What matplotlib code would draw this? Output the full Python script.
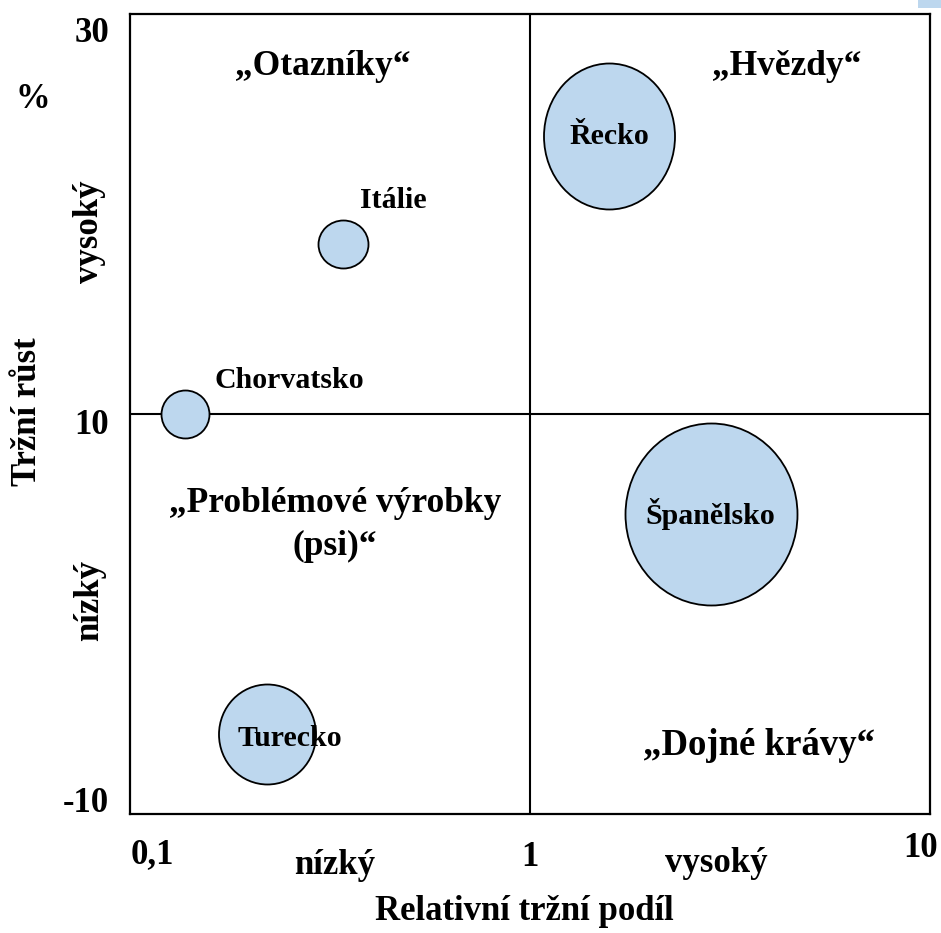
import matplotlib
matplotlib.use("Agg")
import matplotlib.pyplot as plt
from matplotlib.path import Path
from matplotlib.transforms import Affine2D, ScaledTranslation
from matplotlib.patches import Rectangle

plt.rcParams['font.family'] = ['Liberation Serif', 'DejaVu Serif']
plt.rcParams['font.weight'] = 'bold'

# ---- data ----
countries = ["Řecko", "Španělsko", "Turecko", "Itálie", "Chorvatsko"]
rel_share = [1.58, 2.83, 0.22, 0.34, 0.137]      # relative market share (log scale)
growth = [23.9, 5.0, -6.0, 18.5, 10.0]             # market growth %
bubble_w = [131, 172, 97, 50, 48]                  # bubble width (px)
bubble_h = [146, 182, 100, 48, 48]                 # bubble height (px)
x_ticks = [0.1, 1, 10]
x_ticklabels = ["0,1", "1", "10"]
y_ticks = [-10, 10, 30]
y_ticklabels = ["-10", "10", "30"]
quadrants = ["„Otazníky“", "„Hvězdy“", "„Problémové výrobky\n(psi)“", "„Dojné krávy“"]

fill = "#BDD7EE"

fig = plt.figure(figsize=(9.41, 9.33), dpi=100)
ax = fig.add_axes([130/941, 1-814/933, 800/941, 800/933])
ax.set_xscale('log')
ax.set_xlim(0.1, 10)
ax.set_ylim(-10, 30)

for sp in ax.spines.values():
    sp.set_linewidth(1.6)
    sp.set_color('black')

ax.axvline(1, color='black', lw=1.5, zorder=1)
ax.axhline(10, color='black', lw=1.5, zorder=1)

circle = Path.unit_circle()
px2pt = 0.72
for name, x, y, w, h in zip(countries, rel_share, growth, bubble_w, bubble_h):
    m = circle.transformed(Affine2D().scale(w, h))
    size = max(w, h) * px2pt
    ax.scatter([x], [y], s=size**2, marker=m, facecolor=fill,
               edgecolor='black', linewidths=1.3, zorder=3)

# bubble labels (offsets in px)
label_offsets = {
    "Řecko": (0, 0),
    "Španělsko": (0, 0),
    "Turecko": (23, -5),
    "Itálie": (51, 44),
    "Chorvatsko": (105, 34),
}
for name, x, y in zip(countries, rel_share, growth):
    dx, dy = label_offsets[name]
    ax.annotate(name, (x, y), xytext=(dx*px2pt, dy*px2pt), textcoords='offset points',
                ha='center', va='center', fontsize=21.5, fontweight='bold', zorder=4)

# quadrant labels
qpos = [(0.241, 0.934), (0.821, 0.934), (0.256, 0.3615), (0.786, 0.086)]
qsize = [25.5, 25.5, 25.5, 26.5]
for q, (qx, qy), qs in zip(quadrants, qpos, qsize):
    ax.text(qx, qy, q, transform=ax.transAxes, ha='center', va='center',
            fontsize=qs, fontweight='bold', linespacing=1.4)

# ticks
ax.set_xticks(x_ticks)
ax.set_xticklabels(x_ticklabels)
ax.minorticks_off()
ax.set_yticks(y_ticks)
ax.set_yticklabels(y_ticklabels)
ax.tick_params(axis='both', length=0, labelsize=25)
ax.tick_params(axis='y', pad=15)
ax.tick_params(axis='x', pad=17)

xoff = [(22, 0), (0, -3), (-9, 6)]
for lab, (dx, dy) in zip(ax.get_xticklabels(), xoff):
    lab.set_transform(lab.get_transform() + ScaledTranslation(dx/100, dy/100, fig.dpi_scale_trans))
yoff = [(0, 14), (0, -8), (0, -15)]
for lab, (dx, dy) in zip(ax.get_yticklabels(), yoff):
    lab.set_transform(lab.get_transform() + ScaledTranslation(dx/100, dy/100, fig.dpi_scale_trans))

# axis texts
fs = 25
fig.text(33/941, 1-99/933, "%", ha='center', va='center', fontsize=fs)
fig.text(28/941, 1-412/933, "Tržní růst", ha='center', va='center', rotation=90, fontsize=fs)
fig.text(90/941, 1-232/933, "vysoký", ha='center', va='center', rotation=90, fontsize=fs)
fig.text(90/941, 1-600/933, "nízký", ha='center', va='center', rotation=90, fontsize=fs)
fig.text(335/941, 1-866/933, "nízký", ha='center', va='center', fontsize=fs)
fig.text(716/941, 1-864/933, "vysoký", ha='center', va='center', fontsize=fs)
fig.text(524/941, 1-911/933, "Relativní tržní podíl", ha='center', va='center', fontsize=fs)

fig.patches.append(Rectangle((918/941, 1-8/933), 23/941, 8/933, transform=fig.transFigure,
                             facecolor=fill, edgecolor='none'))

fig.savefig("out.png", dpi=100)
